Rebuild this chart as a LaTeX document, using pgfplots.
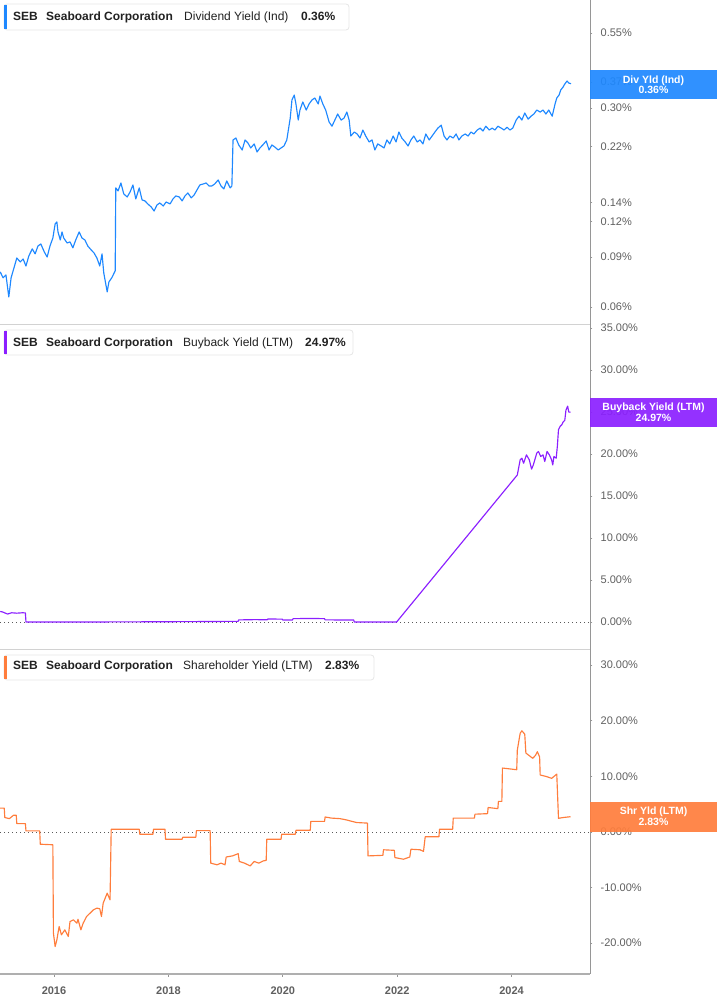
\documentclass[border=0pt]{standalone}
\usepackage{fontspec}
\setmainfont{Liberation Sans}
\usepackage{pgfplots}
\usepackage{pgfplotstable}
\pgfplotsset{compat=1.18}
\definecolor{divblue}{RGB}{30,136,255}
\definecolor{bbpurple}{RGB}{139,31,255}
\definecolor{shorange}{RGB}{255,125,60}
\definecolor{ticktext}{RGB}{95,95,95}
\definecolor{axisgray}{RGB}{150,150,150}
\definecolor{sepgray}{RGB}{210,210,210}
\definecolor{hdrtext}{RGB}{34,34,34}
\definecolor{hdrborder}{RGB}{230,230,230}
\definecolor{botgray}{RGB}{175,175,175}
\definecolor{zerogray}{RGB}{90,90,90}

\pgfplotstableread{
t v
2015.06 0.0797
2015.11 0.0760
2015.16 0.0778
2015.21 0.0651
2015.25 0.0760
2015.30 0.0823
2015.35 0.0892
2015.41 0.0864
2015.46 0.0885
2015.51 0.0836
2015.56 0.0907
2015.62 0.0960
2015.67 0.0922
2015.72 0.0983
2015.77 0.0999
2015.83 0.0937
2015.88 0.0899
2015.93 0.0983
2015.98 0.1048
2016.02 0.1175
2016.05 0.1194
2016.07 0.1101
2016.11 0.1032
2016.14 0.1101
2016.17 0.1048
2016.23 0.1007
2016.28 0.1016
2016.33 0.0968
2016.38 0.1032
2016.44 0.1101
2016.49 0.1048
2016.54 0.1032
2016.59 0.0983
2016.65 0.0952
2016.70 0.0929
2016.75 0.0892
2016.80 0.0836
2016.84 0.0922
2016.87 0.0791
2016.93 0.0678
2016.96 0.0735
2017.01 0.0760
2017.07 0.0804
2017.08 0.1572
2017.12 0.1534
2017.17 0.1636
2017.22 0.1497
2017.28 0.1461
2017.33 0.1521
2017.38 0.1610
2017.43 0.1438
2017.49 0.1572
2017.54 0.1426
2017.59 0.1415
2017.64 0.1381
2017.70 0.1347
2017.75 0.1304
2017.80 0.1369
2017.85 0.1392
2017.91 0.1358
2017.96 0.1403
2018.03 0.1381
2018.08 0.1438
2018.13 0.1473
2018.19 0.1461
2018.24 0.1415
2018.29 0.1473
2018.34 0.1509
2018.40 0.1450
2018.45 0.1485
2018.50 0.1546
2018.55 0.1610
2018.61 0.1623
2018.66 0.1636
2018.71 0.1597
2018.76 0.1597
2018.81 0.1623
2018.87 0.1676
2018.92 0.1597
2018.97 0.1559
2019.02 0.1663
2019.08 0.1572
2019.11 0.1597
2019.13 0.2316
2019.18 0.2353
2019.23 0.2224
2019.29 0.2136
2019.34 0.2316
2019.39 0.2261
2019.44 0.2171
2019.50 0.2243
2019.55 0.2102
2019.60 0.2171
2019.65 0.2224
2019.71 0.2297
2019.76 0.2136
2019.81 0.2224
2019.86 0.2188
2019.92 0.2136
2019.97 0.2171
2020.02 0.2206
2020.07 0.2316
2020.13 0.2763
2020.16 0.3200
2020.20 0.3330
2020.23 0.3099
2020.27 0.2720
2020.30 0.2950
2020.35 0.3149
2020.41 0.2950
2020.46 0.3099
2020.51 0.3200
2020.56 0.3251
2020.62 0.3099
2020.65 0.3303
2020.70 0.3099
2020.75 0.2950
2020.81 0.2677
2020.86 0.2589
2020.91 0.2720
2020.96 0.2857
2021.02 0.2720
2021.07 0.2763
2021.12 0.2903
2021.16 0.2720
2021.19 0.2391
2021.25 0.2470
2021.30 0.2431
2021.35 0.2353
2021.40 0.2510
2021.45 0.2391
2021.51 0.2279
2021.56 0.2316
2021.61 0.2136
2021.66 0.2243
2021.72 0.2206
2021.77 0.2171
2021.82 0.2316
2021.87 0.2243
2021.93 0.2391
2021.98 0.2279
2022.03 0.2470
2022.08 0.2353
2022.14 0.2279
2022.19 0.2206
2022.24 0.2316
2022.29 0.2391
2022.35 0.2279
2022.40 0.2316
2022.45 0.2243
2022.50 0.2431
2022.56 0.2316
2022.61 0.2391
2022.66 0.2470
2022.71 0.2548
2022.77 0.2610
2022.82 0.2391
2022.87 0.2316
2022.92 0.2391
2022.98 0.2353
2023.03 0.2431
2023.08 0.2316
2023.13 0.2391
2023.19 0.2431
2023.24 0.2391
2023.29 0.2470
2023.34 0.2431
2023.40 0.2510
2023.45 0.2548
2023.50 0.2490
2023.55 0.2589
2023.61 0.2510
2023.66 0.2548
2023.71 0.2510
2023.76 0.2589
2023.82 0.2548
2023.87 0.2510
2023.92 0.2568
2023.97 0.2510
2024.02 0.2548
2024.08 0.2720
2024.13 0.2807
2024.18 0.2720
2024.23 0.2880
2024.29 0.2740
2024.34 0.2807
2024.39 0.2857
2024.44 0.2950
2024.50 0.2903
2024.55 0.2950
2024.60 0.2857
2024.65 0.2950
2024.71 0.2807
2024.76 0.3099
2024.79 0.3251
2024.83 0.3330
2024.86 0.3470
2024.90 0.3552
2024.93 0.3641
2024.97 0.3730
2025.00 0.3670
2025.04 0.3650
}\divdata

\pgfplotstableread{
t v
2015.06 1.25
2015.10 1.20
2015.15 1.05
2015.19 0.95
2015.26 1.10
2015.35 1.05
2015.45 1.10
2015.50 1.08
2015.51 0.00
2016.50 0.00
2017.50 0.02
2018.50 0.05
2019.22 0.08
2019.23 0.25
2019.50 0.28
2019.73 0.27
2019.74 0.36
2019.99 0.34
2020.00 0.24
2020.17 0.24
2020.18 0.40
2020.50 0.42
2020.73 0.40
2020.74 0.25
2021.24 0.24
2021.25 0.00
2021.99 0.00
2024.10 17.5
2024.15 19.3
2024.18 19.5
2024.21 18.9
2024.26 19.9
2024.31 19.3
2024.35 18.2
2024.38 18.7
2024.44 20.1
2024.47 20.3
2024.51 19.7
2024.55 19.9
2024.58 19.1
2024.62 20.3
2024.66 19.9
2024.70 19.3
2024.72 18.7
2024.74 19.7
2024.78 19.5
2024.80 20.9
2024.82 22.9
2024.85 23.3
2024.88 23.5
2024.90 23.8
2024.93 24.0
2024.95 25.2
2024.98 25.7
2025.00 25.0
2025.03 24.97
}\bbdata

\pgfplotstableread{
t v
2015.06 4.3
2015.13 4.3
2015.14 2.6
2015.22 2.4
2015.29 3.0
2015.34 3.0
2015.35 1.5
2015.50 1.5
2015.51 0.2
2015.75 0.2
2015.76 -2.2
2015.98 -2.3
2015.99 -18.2
2016.02 -20.6
2016.05 -19.4
2016.09 -17.0
2016.13 -18.5
2016.19 -17.6
2016.25 -18.8
2016.28 -16.1
2016.34 -15.8
2016.40 -16.4
2016.42 -15.7
2016.47 -17.6
2016.51 -16.4
2016.57 -15.2
2016.63 -14.6
2016.69 -14.0
2016.75 -13.7
2016.80 -13.8
2016.83 -15.2
2016.86 -12.8
2016.93 -11.0
2016.98 -12.2
2017.00 0.5
2017.49 0.5
2017.50 -0.4
2017.73 -0.4
2017.74 0.5
2017.94 0.5
2017.95 -1.3
2018.24 -1.3
2018.25 -0.95
2018.48 -0.95
2018.49 0.25
2018.73 0.25
2018.74 -5.6
2018.85 -5.9
2018.92 -5.6
2018.99 -5.9
2019.01 -4.5
2019.12 -4.3
2019.22 -3.9
2019.24 -5.3
2019.33 -5.6
2019.43 -6.1
2019.50 -5.3
2019.58 -5.6
2019.66 -5.2
2019.71 -5.1
2019.72 -1.3
2019.97 -1.3
2019.98 -0.4
2020.22 -0.4
2020.23 0.3
2020.48 0.3
2020.49 1.9
2020.73 1.9
2020.74 2.7
2020.85 2.5
2021.00 2.4
2021.10 2.2
2021.29 1.7
2021.48 1.6
2021.49 -4.3
2021.75 -4.2
2021.76 -3.2
2021.95 -3.3
2021.96 -4.6
2022.11 -4.9
2022.22 -4.5
2022.24 -3.1
2022.40 -3.2
2022.46 -3.5
2022.49 -0.85
2022.73 -0.85
2022.74 0.5
2022.97 0.5
2022.98 2.5
2023.35 2.5
2023.36 3.2
2023.58 3.3
2023.59 4.4
2023.76 4.2
2023.77 5.5
2023.83 5.5
2023.84 11.5
2024.09 11.2
2024.10 14.7
2024.15 17.75
2024.18 18.2
2024.23 17.6
2024.25 14.2
2024.30 13.8
2024.37 13.25
2024.42 13.8
2024.45 14.45
2024.49 13.5
2024.50 10.25
2024.60 10.0
2024.70 9.65
2024.79 10.4
2024.82 2.46
2024.90 2.6
2025.03 2.75
}\shdata

\pgfplotsset{
  panel/.style={
    scale only axis, width=590pt, anchor=south west,
    xmin=2015.056, xmax=2025.371,
    axis line style={draw=none},
    ytick pos=right, yticklabel pos=right,
    tick align=outside,
    major tick length=2.5pt,
    tick style={axisgray, line width=0.6pt},
    yticklabel style={font=\fontsize{11}{13}\selectfont, text=ticktext, anchor=west, inner sep=0pt, xshift=8pt},
    xtick=\empty,
    every axis plot/.append style={line width=1.15pt, line join=round, mark=none},
  },
}

\begin{document}
\begin{tikzpicture}
\path[use as bounding box] (0pt,0pt) rectangle (717pt,1005pt);

% Panel 1: dividend yield (log)
\begin{axis}[panel, at={(0pt,680pt)}, height=325pt, ymode=log,
  ymin=0.05189, ymax=0.7182,
  ytick={0.06,0.09,0.12,0.14,0.22,0.30,0.37,0.55},
  yticklabels={0.06\%,0.09\%,0.12\%,0.14\%,0.22\%,0.30\%,0.37\%,0.55\%}]
\addplot[divblue] table[x=t,y=v] {\divdata};
\end{axis}

% Panel 2: buyback yield
\begin{axis}[panel, at={(0pt,355pt)}, height=325pt,
  ymin=-3.333, ymax=35.357,
  ytick={0,5,10,15,20,25,30,35},
  yticklabels={0.00\%,5.00\%,10.00\%,15.00\%,20.00\%,25.00\%,30.00\%,35.00\%}]
\addplot[zerogray, line width=0.8pt, dash pattern=on 1pt off 3pt] coordinates {(2015.056,0) (2025.371,0)};
\addplot[bbpurple] table[x=t,y=v] {\bbdata};
\end{axis}

% Panel 3: shareholder yield
\begin{axis}[panel, at={(0pt,31pt)}, height=324pt,
  ymin=-25.54, ymax=32.73,
  ytick={-20,-10,0,10,20,30},
  yticklabels={-20.00\%,-10.00\%,0.00\%,10.00\%,20.00\%,30.00\%},
  xtick={2016,2018,2020,2022,2024},
  xticklabels={2016,2018,2020,2022,2024},
  xtick pos=left, xticklabel pos=left,
  xticklabel style={font=\fontsize{11}{12}\selectfont\bfseries, text=ticktext, inner sep=0pt, anchor=north, yshift=-10pt}]
\addplot[zerogray, line width=0.8pt, dash pattern=on 1pt off 3pt] coordinates {(2015.056,0) (2025.371,0)};
\addplot[shorange] table[x=t,y=v] {\shdata};
\end{axis}

% frame lines
\draw[sepgray, line width=1pt] (0pt,680pt) -- (590pt,680pt);
\draw[sepgray, line width=1pt] (0pt,355pt) -- (590pt,355pt);
\draw[axisgray, line width=1pt] (590pt,1005pt) -- (590pt,31pt);
\draw[botgray, line width=1.2pt] (0pt,31pt) -- (590pt,31pt);

% headers
\tikzset{hdrbox/.style={draw=hdrborder, fill=white, rounded corners=3pt, line width=0.8pt},
  hb/.style={anchor=base west, inner sep=0pt, text=hdrtext, font=\fontsize{12}{14}\selectfont\bfseries},
  hr/.style={anchor=base west, inner sep=0pt, text=hdrtext, font=\fontsize{12}{14}\selectfont}}
% panel 1
\draw[hdrbox] (4pt,1001pt) rectangle (349pt,975pt);
\fill[divblue] (4pt,1000pt) rectangle (7pt,976pt);
\node[hb] at (13pt,984pt) {SEB};
\node[hb] at (46pt,984pt) {Seaboard Corporation};
\node[hr] at (184pt,984pt) {Dividend Yield (Ind)};
\node[hb] at (301pt,984pt) {0.36\%};
% panel 2
\draw[hdrbox] (4pt,675pt) rectangle (353pt,650pt);
\fill[bbpurple] (4pt,674pt) rectangle (7pt,651pt);
\node[hb] at (13pt,658.3pt) {SEB};
\node[hb] at (46pt,658.3pt) {Seaboard Corporation};
\node[hr] at (183pt,658.3pt) {Buyback Yield (LTM)};
\node[hb] at (305pt,658.3pt) {24.97\%};
% panel 3
\draw[hdrbox] (4pt,350pt) rectangle (374pt,325pt);
\fill[shorange] (4pt,349pt) rectangle (7pt,326pt);
\node[hb] at (13pt,335pt) {SEB};
\node[hb] at (46pt,335pt) {Seaboard Corporation};
\node[hr] at (183pt,335pt) {Shareholder Yield (LTM)};
\node[hb] at (325pt,335pt) {2.83\%};

% right value boxes
\tikzset{vb/.style={anchor=base, inner sep=0pt, text=white, font=\fontsize{10.5}{12}\selectfont\bfseries}}
\fill[divblue, fill opacity=0.92] (590pt,935pt) rectangle (717pt,906pt);
\node[vb] at (653.5pt,921.7pt) {Div Yld (Ind)};
\node[vb] at (653.5pt,911pt) {0.36\%};
\fill[bbpurple, fill opacity=0.92] (590pt,607pt) rectangle (717pt,578pt);
\node[vb] at (653.5pt,594.3pt) {Buyback Yield (LTM)};
\node[vb] at (653.5pt,583.3pt) {24.97\%};
\fill[shorange, fill opacity=0.92] (590pt,203pt) rectangle (717pt,173pt);
\node[vb] at (653.5pt,190pt) {Shr Yld (LTM)};
\node[vb] at (653.5pt,179pt) {2.83\%};
\end{tikzpicture}
\end{document}
